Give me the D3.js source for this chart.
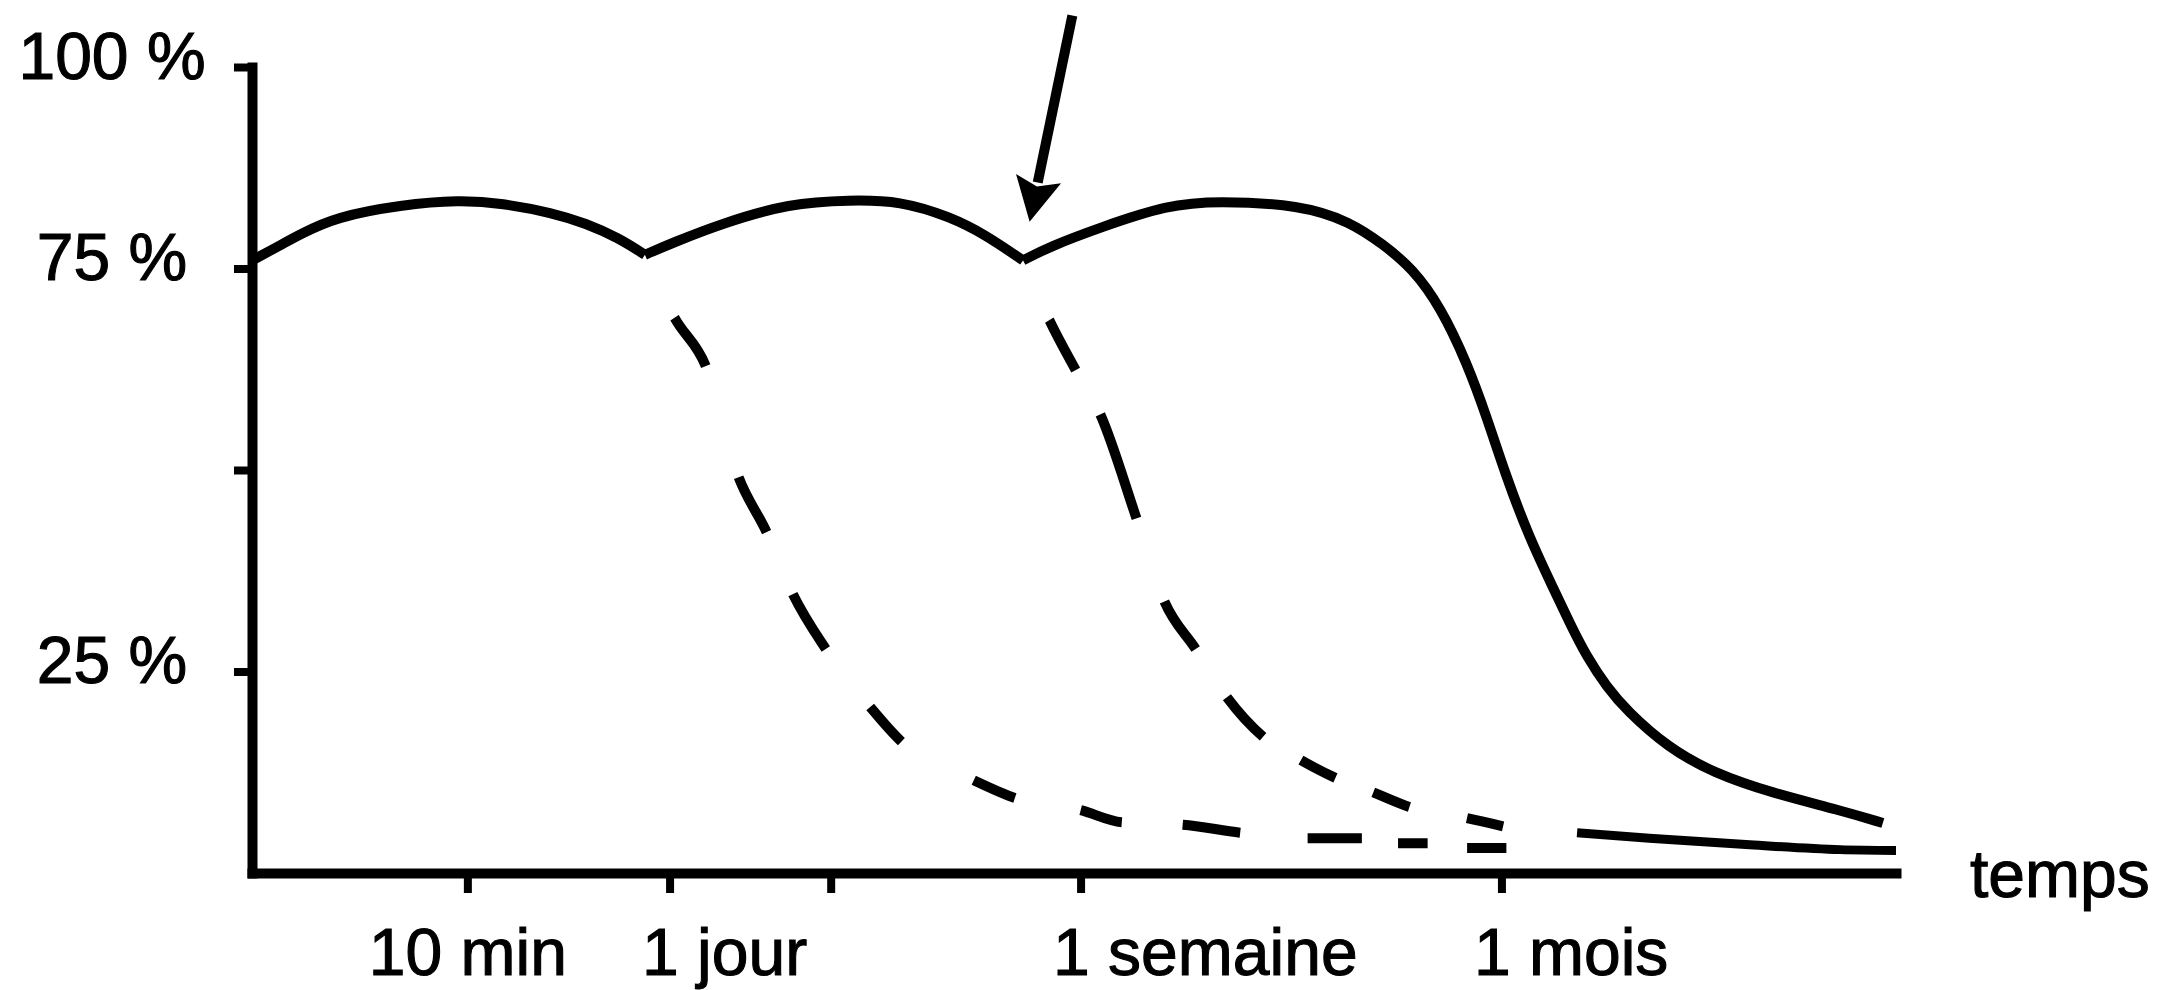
<!DOCTYPE html>
<html lang="fr">
<head>
<meta charset="utf-8">
<title>Courbe de l'oubli et rappels</title>
<script src="https://cdn.jsdelivr.net/npm/d3@7"></script>
<style>
  html, body { margin: 0; padding: 0; background: #fff; }
  svg { display: block; }
  text { font-family: "Liberation Sans", Arial, sans-serif; fill: #000; stroke: #000; stroke-width: 1.1px; }
</style>
</head>
<body>
<div id="chart"></div>
<script>
// temps sur une échelle schématique (0 - 100), rétention en %
const tickTimes = [13.1, 25.4, 35.2, 50.4, 76.0];
const tickTimeLabels = ["10 min", "1 jour", "", "1 semaine", "1 mois"];
const tickPercents = [100, 75, 50, 25];
const tickPercentLabels = ["100 %", "75 %", "", "25 %"];

// courbe avec rappels (trait plein), un morceau entre chaque rappel
const rappel1 = [[0, 76.0], [2.0, 78.2], [2.9, 79.2], [5.1, 81.4], [9.1, 82.9], [12.6, 83.5],
  [15.2, 83.1], [18.3, 81.9], [20.3, 80.6], [22.3, 78.8], [23.9, 76.7]];
const rappel2 = [[23.9, 76.7], [25.6, 78.2], [28.6, 80.6], [32.7, 83.1], [36.4, 83.5],
  [39.4, 83.4], [42.5, 81.4], [44.6, 79.2], [46.9, 76.0]];
const rappel3 = [[46.9, 76.0], [48.5, 77.7], [51.6, 80.1], [55.7, 82.9], [58.7, 83.4],
  [63.8, 82.9], [66.8, 80.8], [68.8, 78.0], [70.6, 75.0], [72.3, 70.2], [73.9, 63.3],
  [75.1, 56.6], [76.3, 49.1], [77.7, 41.6], [79.0, 36.0], [80.2, 30.8], [81.2, 26.8],
  [82.4, 23.1], [83.6, 20.2], [86.1, 15.6], [88.9, 12.4], [92.5, 9.9], [96.6, 7.8], [99.2, 6.2]];

// oubli sans le 2e rappel (tirets) : rappel, puis début / fin de chaque tiret
const oubliApresJour = [[23.9, 76.7], [25.7, 68.9], [27.6, 62.9], [29.6, 49.1], [31.3, 42.3],
  [32.9, 34.6], [34.9, 27.8], [37.6, 20.6], [39.5, 16.3], [43.9, 11.5], [46.4, 9.3],
  [50.4, 7.8], [52.9, 6.3], [56.6, 6.0], [60.1, 5.0], [64.2, 4.3], [67.5, 4.3],
  [69.7, 3.7], [71.5, 3.7], [73.9, 3.1], [76.3, 3.1]];
// oubli sans le 3e rappel (tirets)
const oubliApresSemaine = [[46.9, 76.0], [48.5, 68.6], [50.1, 62.4], [51.6, 56.9], [53.8, 44.0],
  [55.5, 33.7], [57.4, 27.8], [59.3, 21.8], [61.5, 16.9], [63.8, 14.0], [65.9, 11.8],
  [68.2, 10.0], [70.4, 8.2], [73.9, 6.8], [76.1, 5.8]];
// fin commune en trait plein
const plancher = [[80.6, 5.0], [85.0, 4.3], [91.1, 3.5], [96.6, 2.9], [100, 2.8]];

// flèche qui montre le rappel d'une semaine (départ, pointe)
const fleche = [[49.9, 106.4], [47.3, 80.8]];

const width = 2166;
const height = 990;

const x = d3.scaleLinear().domain([0, 100]).range([252, 1896]);
const y = d3.scaleLinear().domain([0, 100]).range([873, 67]);

const svg = d3.select("#chart")
  .append("svg")
  .attr("width", width)
  .attr("height", height)
  .attr("viewBox", [0, 0, width, height]);

// axes
const xAxis = svg.append("g")
  .attr("transform", `translate(0,${y(0)})`)
  .call(d3.axisBottom(x)
    .tickValues(tickTimes)
    .tickFormat((d, i) => tickTimeLabels[i])
    .tickSize(20)
    .tickSizeOuter(0));

const yAxis = svg.append("g")
  .attr("transform", `translate(${x(0)},0)`)
  .call(d3.axisLeft(y)
    .tickValues(tickPercents)
    .tickFormat((d, i) => tickPercentLabels[i])
    .tickSize(18)
    .tickSizeOuter(0));

[xAxis, yAxis].forEach(g => {
  g.select(".domain")
    .attr("stroke", "#000")
    .attr("stroke-width", 10)
    .attr("stroke-linecap", "square");
  g.selectAll(".tick line")
    .attr("stroke", "#000")
    .attr("stroke-width", 8);
  g.selectAll(".tick text")
    .attr("font-size", 66)
    .attr("font-family", "'Liberation Sans', Arial, sans-serif")
    .attr("fill", "#000");
});

xAxis.selectAll(".tick text")
  .attr("y", 102)
  .attr("dy", null)
  .attr("x", (d, i) => i === 0 ? 0 : -28)
  .attr("text-anchor", (d, i) => i === 0 ? "middle" : "start");

yAxis.selectAll(".tick text")
  .attr("x", -140)
  .attr("dy", null)
  .attr("y", 11)
  .attr("text-anchor", "middle");

svg.append("text")
  .attr("x", x.range()[1] + 74)
  .attr("y", y(0) + 24)
  .attr("font-size", 66)
  .text("temps");

// courbes
const lisse = d3.line()
  .x(d => x(d[0]))
  .y(d => y(d[1]))
  .curve(d3.curveBasis);

const monotone = d3.line()
  .x(d => x(d[0]))
  .y(d => y(d[1]))
  .curve(d3.curveMonotoneX);

svg.append("g")
  .attr("fill", "none")
  .attr("stroke", "#000")
  .attr("stroke-width", 10)
  .selectAll("path")
  .data([rappel1, rappel2, rappel3])
  .join("path")
  .attr("d", lisse);

// longueur le long du tracé à l'abscisse d'un point (courbe monotone en x)
function lengthAtX(node, px) {
  let lo = 0, hi = node.getTotalLength();
  for (let k = 0; k < 40; k++) {
    const mid = (lo + hi) / 2;
    if (node.getPointAtLength(mid).x < px) lo = mid; else hi = mid;
  }
  return (lo + hi) / 2;
}

svg.append("g")
  .attr("fill", "none")
  .attr("stroke", "#000")
  .attr("stroke-width", 10)
  .attr("stroke-linecap", "butt")
  .selectAll("path")
  .data([oubliApresJour, oubliApresSemaine])
  .join("path")
  .attr("d", monotone)
  .each(function(pts) {
    // un blanc depuis le rappel, puis alternance tiret / blanc entre les points lus
    const lengths = pts.map(p => lengthAtX(this, x(p[0])));
    const pattern = [0];
    for (let i = 1; i < lengths.length; i++) pattern.push(lengths[i] - lengths[i - 1]);
    pattern.push(4000);
    d3.select(this).attr("stroke-dasharray", pattern.map(v => v.toFixed(2)).join(" "));
  });

svg.append("path")
  .attr("fill", "none")
  .attr("stroke", "#000")
  .attr("stroke-width", 9)
  .attr("d", monotone(plancher));

// flèche
const [x0, y0] = [x(fleche[0][0]), y(fleche[0][1])];
const [x1, y1] = [x(fleche[1][0]), y(fleche[1][1])];
const len = Math.hypot(x1 - x0, y1 - y0);
const ux = (x1 - x0) / len, uy = (y1 - y0) / len;
const headLen = 44, headHalf = 23;
const bx = x1 - ux * headLen, by = y1 - uy * headLen;

svg.append("line")
  .attr("x1", x0).attr("y1", y0)
  .attr("x2", bx + ux * 4).attr("y2", by + uy * 4)
  .attr("stroke", "#000")
  .attr("stroke-width", 10);

svg.append("path")
  .attr("fill", "#000")
  .attr("d", d3.line()([
    [x1, y1],
    [bx - uy * headHalf, by + ux * headHalf],
    [bx + ux * 8, by + uy * 8],
    [bx + uy * headHalf, by - ux * headHalf]
  ]) + "Z");
</script>
</body>
</html>
